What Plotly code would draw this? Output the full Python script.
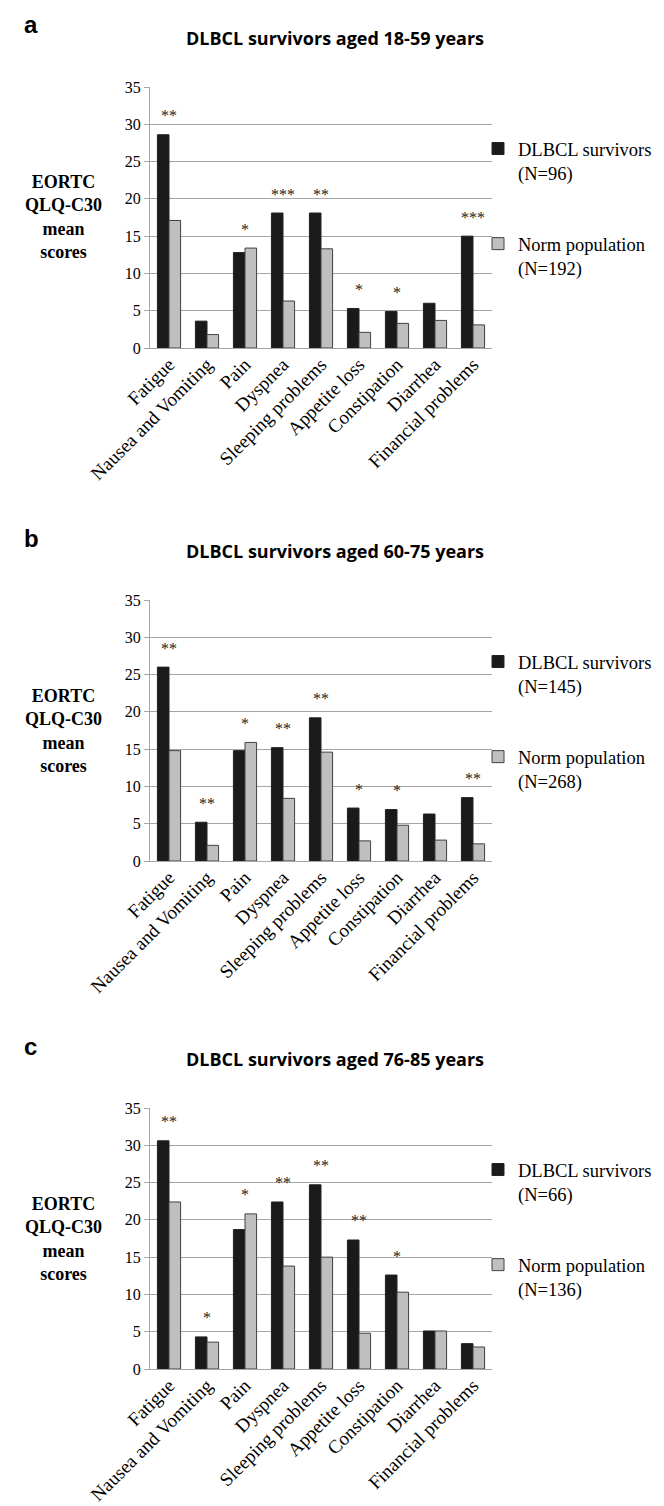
import plotly.graph_objects as go

categories = ["Fatigue", "Nausea and Vomiting", "Pain", "Dyspnea", "Sleeping problems",
              "Appetite loss", "Constipation", "Diarrhea", "Financial problems"]

titles = ["DLBCL survivors aged 18-59 years",
          "DLBCL survivors aged 60-75 years",
          "DLBCL survivors aged 76-85 years"]
panel_letters = ["a", "b", "c"]

survivor_n = [96, 145, 66]
norm_n = [192, 268, 136]

survivors_a = [28.6, 3.6, 12.8, 18.1, 18.1, 5.3, 4.9, 6.0, 15.0]
norm_a = [17.1, 1.8, 13.4, 6.3, 13.3, 2.1, 3.3, 3.7, 3.1]
sig_a = ["**", "", "*", "***", "**", "*", "*", "", "***"]

survivors_b = [26.0, 5.2, 14.8, 15.2, 19.2, 7.1, 6.9, 6.3, 8.5]
norm_b = [14.8, 2.1, 15.9, 8.4, 14.6, 2.7, 4.8, 2.8, 2.3]
sig_b = ["**", "**", "*", "**", "**", "*", "*", "", "**"]

survivors_c = [30.6, 4.3, 18.7, 22.4, 24.7, 17.3, 12.6, 5.1, 3.4]
norm_c = [22.4, 3.6, 20.8, 13.8, 15.0, 4.8, 10.3, 5.1, 2.95]
sig_c = ["**", "*", "*", "**", "**", "**", "*", "", ""]

y_ticks = [0, 5, 10, 15, 20, 25, 30, 35]

panels = [(survivors_a, norm_a, sig_a), (survivors_b, norm_b, sig_b), (survivors_c, norm_c, sig_c)]

W, H = 664, 1506
# plot-area pixel boxes (top, bottom) for each panel
boxes = [(79, 340), (592, 853), (1100, 1361)]
x_left, x_right = 142, 484

SERIF = "Liberation Serif"
SANS = "Liberation Sans"
TITLEF = "Open Sans"
GRID = "#a6a6a6"

fig = go.Figure()
annotations = []
for i, (surv, norm, sig) in enumerate(panels):
    k = "" if i == 0 else str(i + 1)
    xa, ya = "x" + k, "y" + k
    lg = "legend" + k
    fig.add_trace(go.Bar(
        x=categories, y=surv, name=f"DLBCL survivors<br>(N={survivor_n[i]})",
        marker=dict(color="#1a1a1a", line=dict(color="#222222", width=1)),
        xaxis=xa, yaxis=ya, legend=lg, legendgroup=f"s{i}"))
    fig.add_trace(go.Bar(
        x=categories, y=norm, name=f"Norm population<br>(N={norm_n[i]})",
        marker=dict(color="#bfbfbf", line=dict(color="#404040", width=1)),
        xaxis=xa, yaxis=ya, legend=lg, legendgroup=f"n{i}"))
    top, bot = boxes[i]
    yd = [1 - bot / H, 1 - top / H]
    fig.layout["xaxis" + k] = dict(
        domain=[x_left / W, x_right / W], anchor=ya, type="category",
        categoryorder="array", categoryarray=categories,
        tickangle=-45, tickfont=dict(family=SERIF, size=19, color="#000"),
        ticklabelstandoff=-3,
        showline=True, linecolor=GRID, linewidth=1, showgrid=False,
        ticks="", fixedrange=True, automargin=False)
    fig.layout["yaxis" + k] = dict(
        domain=yd, anchor=xa, range=[0, 35], tickvals=y_ticks,
        tickfont=dict(family=SERIF, size=16, color="#000"),
        showgrid=True, gridcolor=GRID, gridwidth=1,
        showline=True, linecolor=GRID, linewidth=1,
        ticks="outside", ticklen=5, tickcolor=GRID, zeroline=False, automargin=False)
    fig.layout[lg] = dict(
        x=470 / W, xanchor="left", y=1 - (top + 43) / H, yanchor="top",
        font=dict(family=SERIF, size=18.5, color="#000"),
        tracegroupgap=44, valign="top", bgcolor="rgba(0,0,0,0)",
        itemwidth=30)
    # y-axis title
    annotations.append(dict(
        text="<b>EORTC<br>QLQ-C30<br>mean<br>scores</b>", xref="paper", yref="paper",
        x=56 / W, y=1 - (top + bot) / 2 / H, showarrow=False,
        font=dict(family=SERIF, size=18, color="#000"), xanchor="center", yanchor="middle"))
    # panel title
    annotations.append(dict(
        text=f"<b>{titles[i]}</b>", xref="paper", yref="paper",
        x=327 / W, y=1 - (top - 49) / H, showarrow=False,
        font=dict(family=TITLEF, size=18, color="#000"), xanchor="center", yanchor="middle"))
    # panel letter
    annotations.append(dict(
        text=f"<b>{panel_letters[i]}</b>", xref="paper", yref="paper",
        x=14 / W, y=1 - (top - 62) / H, showarrow=False,
        font=dict(family=SANS, size=24, color="#000"), xanchor="left", yanchor="middle"))
    # significance markers
    for c, s, a, b in zip(categories, sig, surv, norm):
        if s:
            annotations.append(dict(
                text=s, x=c, y=max(a, b), xref=xa, yref=ya, showarrow=False,
                yanchor="middle", yshift=19,
                font=dict(family=SERIF, size=16, color="#222222")))

fig.update_layout(
    width=W, height=H, margin=dict(l=0, r=0, t=0, b=0, autoexpand=False),
    plot_bgcolor="white", paper_bgcolor="white",
    barmode="group", bargap=0.39, bargroupgap=0,
    annotations=annotations, showlegend=True)

fig.write_html("out.html")
